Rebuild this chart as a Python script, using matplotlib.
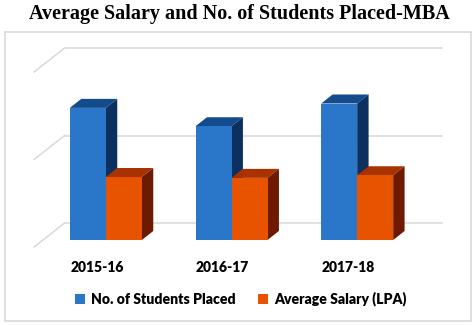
import numpy as np
import matplotlib
matplotlib.use('Agg')
import matplotlib.pyplot as plt
from matplotlib.patches import Polygon, Rectangle
from matplotlib.transforms import blended_transform_factory

years = ['2015-16', '2016-17', '2017-18']
students = [151, 130, 156]
salary = [72, 71, 74]
series_names = ['No. of Students Placed', 'Average Salary (LPA)']
grid_values = [0, 100, 200]

# front, top and side shades for each series
blue = ('#2A76C9', '#134C8C', '#0C3060')
orange = ('#E85300', '#A83300', '#6E1A00')

W, H = 474, 325
fig = plt.figure(figsize=(W / 100, H / 100), dpi=100)
fig.patch.set_facecolor('white')

ax = fig.add_axes([43 / W, 85 / H, 377 / W, 175 / H])
ax.set_xlim(-0.5, 2.5)
ax.set_ylim(0, 200)
ax.axis('off')

# pixel -> data scale for the oblique depth offset
px_x = 3.0 / 377
px_y = 200.0 / 175
slope = 1.27


def shift(x, y, depth):
    """move a front-plane point back by `depth` pixels"""
    return x + depth * slope * px_x, y + depth * px_y


wall_depth = 17
floor_front = -7
grid_col = '#D9D9D9'

for g in grid_values:
    x0, y0 = shift(-0.5, g, wall_depth)
    x1, y1 = shift(2.5, g, wall_depth)
    ax.plot([x0, x1], [y0, y1], color=grid_col, lw=1.1, clip_on=False, zorder=1)
    xf, yf = shift(-0.5, g, floor_front)
    ax.plot([xf, x0], [yf, y0], color=grid_col, lw=1.1, clip_on=False, zorder=1)


def bar3d(x0, x1, h, colors, depth=9, z=2):
    front, top, side = colors
    bx0, by = shift(x0, h, depth)
    bx1, _ = shift(x1, h, depth)
    _, bb = shift(x1, 0, depth)
    ax.add_patch(Polygon([(x0, 0), (x1, 0), (x1, h), (x0, h)],
                         closed=True, fc=front, ec='none', zorder=z + 0.2, clip_on=False))
    ax.add_patch(Polygon([(x0, h), (x1, h), (bx1, by), (bx0, by)],
                         closed=True, fc=top, ec='none', zorder=z, clip_on=False))
    ax.add_patch(Polygon([(x1, 0), (bx1, bb), (bx1, by), (x1, h)],
                         closed=True, fc=side, ec='none', zorder=z, clip_on=False))


bw = 36 * px_x
for i in range(len(years)):
    bar3d(i - bw, i, students[i], blue, z=2 + i)
    bar3d(i, i + bw, salary[i], orange, z=2.5 + i)

lab_font = 'Lato'
trans = blended_transform_factory(ax.transData, fig.transFigure)
for i, yr in enumerate(years):
    lx, _ = shift(i, 0, floor_front)
    ax.text(lx, 1 - 268 / H, yr, transform=trans, ha='center', va='center',
            fontsize=10, fontweight='heavy', family=lab_font)

handles = [Rectangle((0, 0), 1, 1, fc=blue[0]), Rectangle((0, 0), 1, 1, fc=orange[0])]
fig.legend(handles, series_names, loc='center', bbox_to_anchor=(241 / W, 26 / H),
           ncol=2, frameon=False, handlelength=0.7, handleheight=0.7,
           handletextpad=0.45, columnspacing=1.6,
           prop={'family': lab_font, 'weight': 'heavy', 'size': 10.1})

fig.text(239 / W, 1 - 14 / H, 'Average Salary and No. of Students Placed-MBA',
         ha='center', va='center', fontsize=14.5, fontweight='bold',
         family='Liberation Serif')

fig.add_artist(Rectangle((5 / W, 4 / H), 466 / W, 289 / H, transform=fig.transFigure,
                         fill=False, ec='#D9D9D9', lw=1.2))

fig.savefig('out.png', dpi=100, facecolor='white')
